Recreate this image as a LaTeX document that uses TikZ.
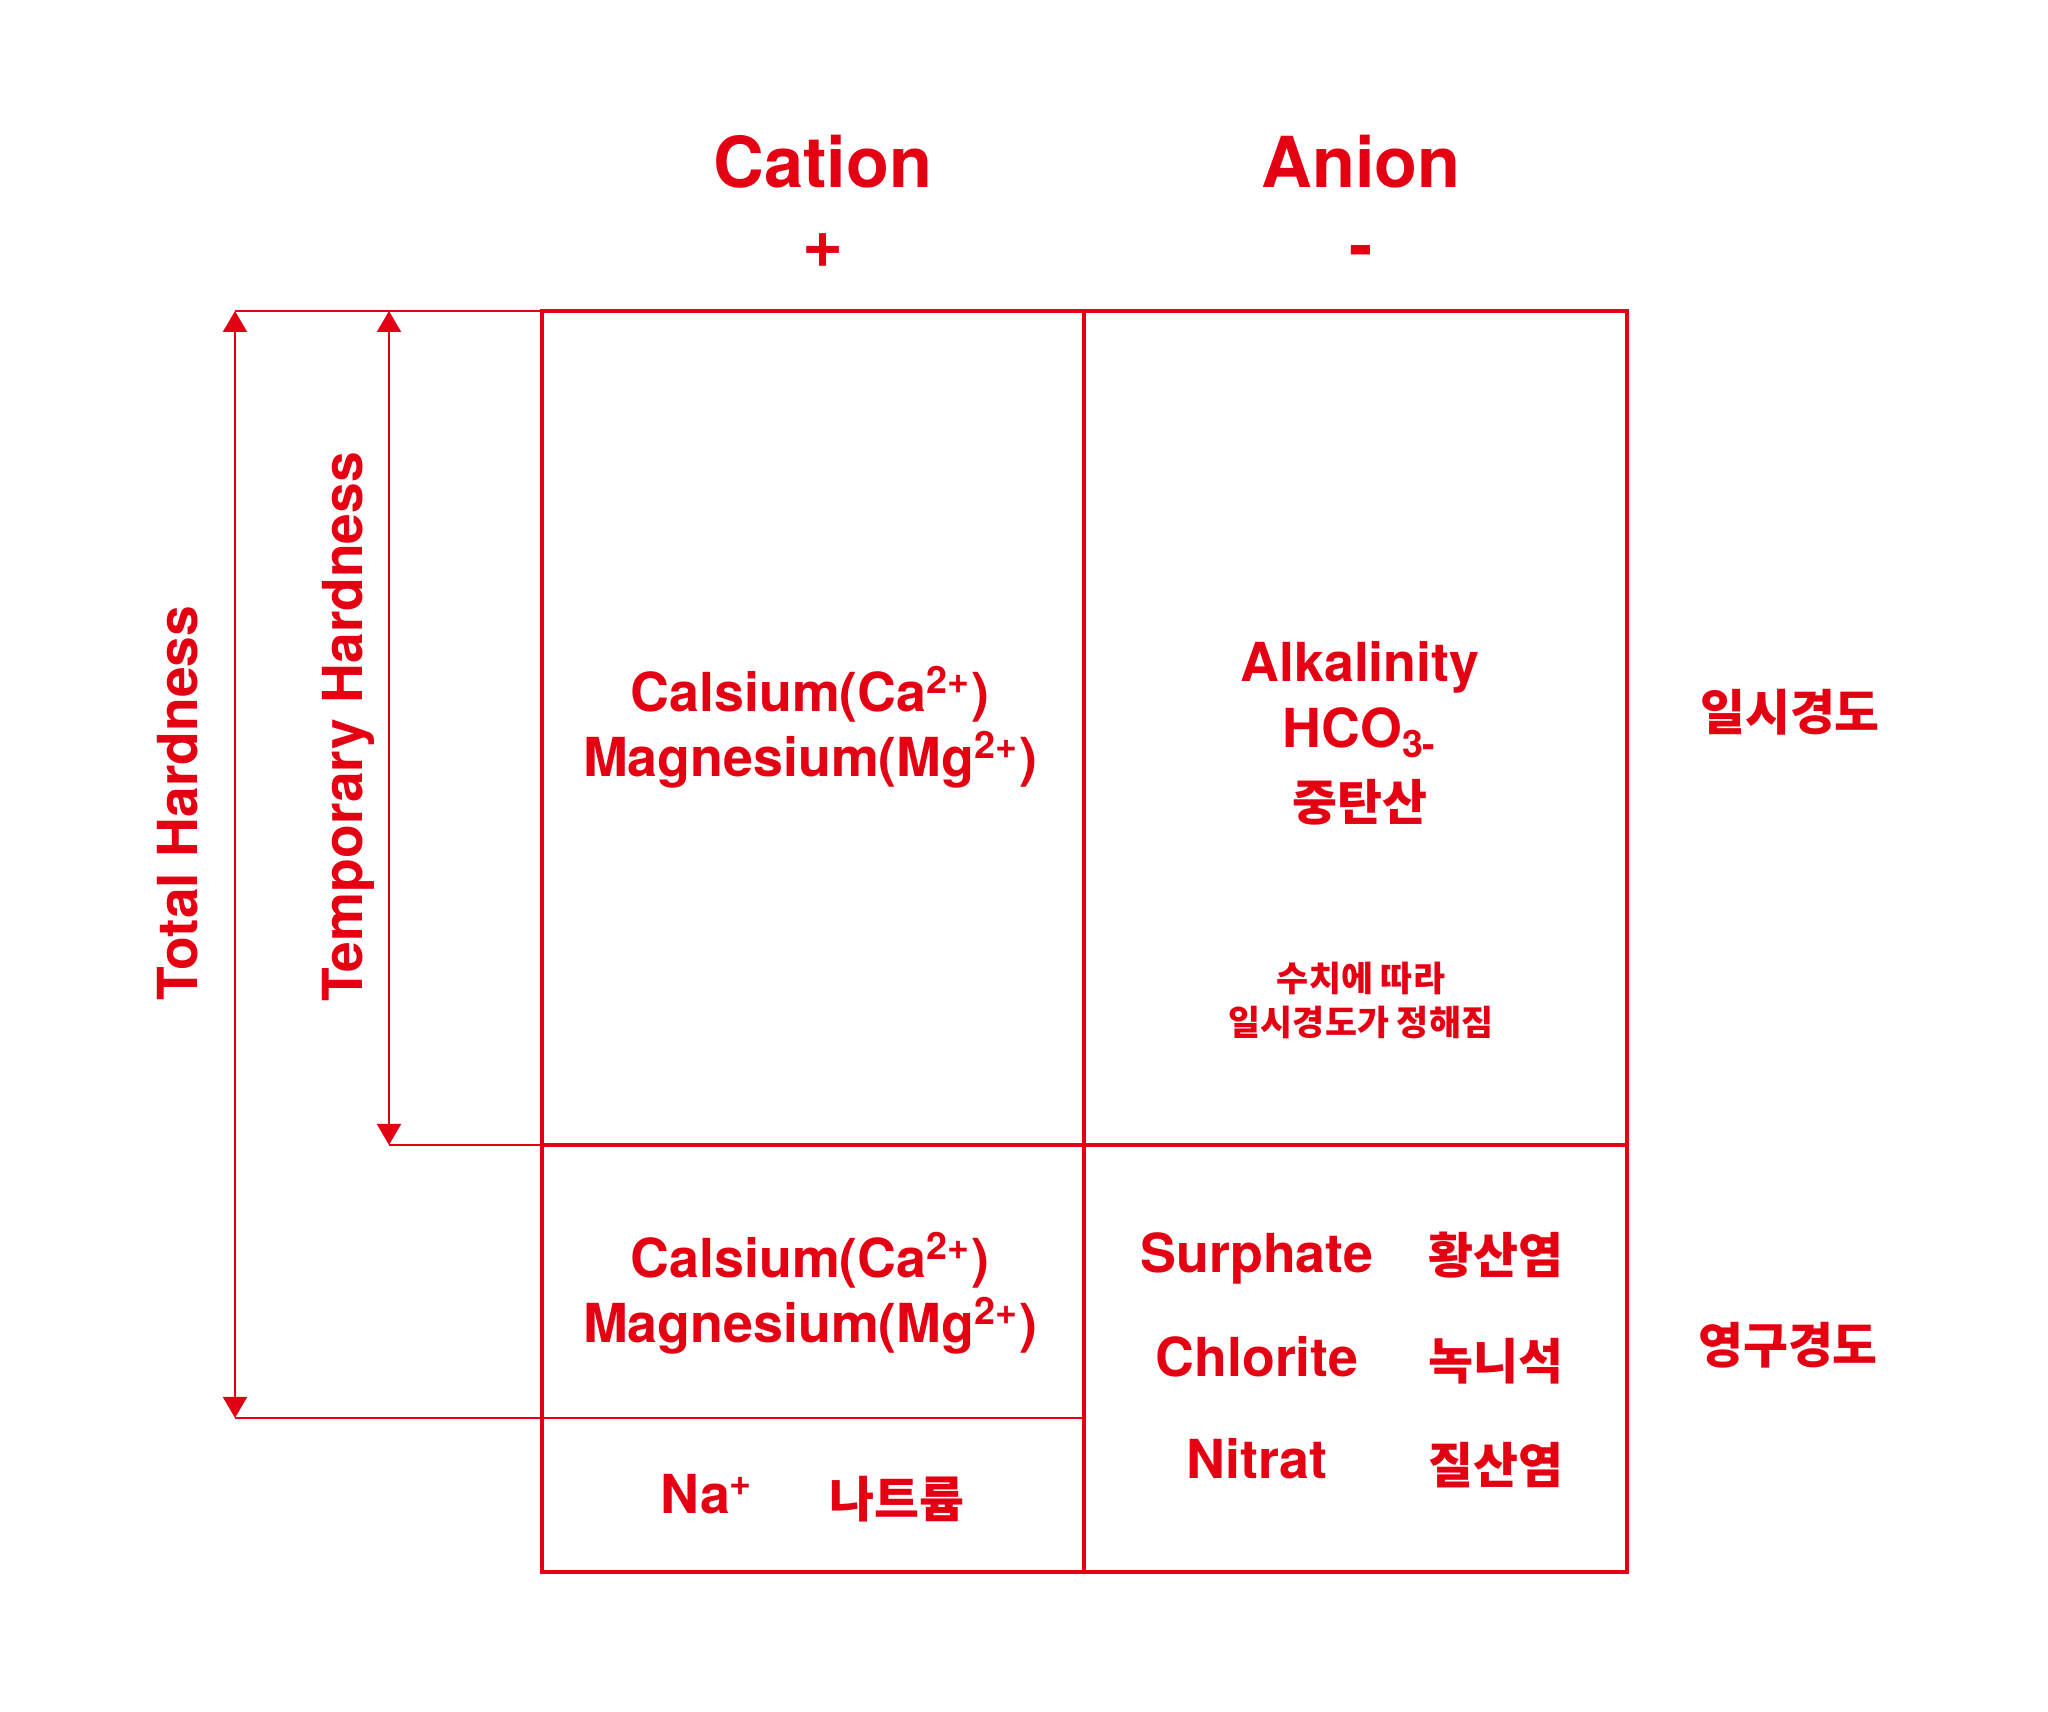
\documentclass[tikz,border=0pt]{standalone}
\usepackage{fontspec}
\setmainfont{TeX Gyre Heros}
\newfontfamily\kor{Noto Sans CJK KR}
\usetikzlibrary{arrows.meta}
\definecolor{hardred}{RGB}{228, 0, 18}

\begin{document}
\begin{tikzpicture}[
        frame/.style={draw=hardred, line width=1.4pt},
        guide/.style={draw=hardred, line width=0.55pt},
        span/.style={{Triangle[length=2.1mm, width=2.4mm]}-{Triangle[length=2.1mm, width=2.4mm]}, draw=hardred, fill=hardred, line width=0.55pt},
        head/.style={text=hardred, font=\fontsize{20}{24}\selectfont\bfseries, inner sep=0pt},
        ion/.style={text=hardred, font=\fontsize{15.3}{18}\selectfont\bfseries, inner sep=0pt, anchor=base},
        kr/.style={text=hardred, font=\kor\fontsize{13.9}{16}\selectfont\bfseries, inner sep=0pt},
        note/.style={text=hardred, font=\kor\fontsize{9.9}{12}\selectfont\bfseries, inner sep=0pt},
        side/.style={text=hardred, font=\fontsize{15.7}{18}\selectfont\bfseries, inner sep=0pt, rotate=90, anchor=base}
      ]
        \useasboundingbox (0,0) rectangle (20.48,17.12);

        \coordinate (nw) at (5.42,14.01);
        \coordinate (se) at (16.27,1.40);
        \coordinate (topM) at (10.84,14.01);
        \coordinate (botM) at (10.84,1.40);
        \coordinate (wMid) at (5.42,5.67);
        \coordinate (eMid) at (16.27,5.67);
        \coordinate (subR) at (10.84,2.94);
        \coordinate (totTop) at (2.35,14.01);
        \coordinate (totBot) at (2.35,2.94);
        \coordinate (tmpTop) at (3.89,14.01);
        \coordinate (tmpBot) at (3.89,5.67);

        \draw[guide] (totTop) -- (nw);
        \draw[guide] (tmpBot) -- (wMid);
        \draw[guide] (totBot) -- (subR);
        \draw[span] (totTop) -- (totBot);
        \draw[span] (tmpTop) -- (tmpBot);
        \draw[frame] (nw) rectangle (se);
        \draw[frame] (topM) -- (botM);
        \draw[frame] (wMid) -- (eMid);

        \node[head, anchor=base] (cation) at (8.23,15.24) {Cation};
        \node[head, anchor=base] (anion) at (13.61,15.24) {Anion};
        \node[head] (plus) at (8.23,14.61) {+};
        \node[head] (minus) at (13.61,14.54) {-};

        \node[side] (total) at (1.97,9.09) {Total Hardness};
        \node[side] (temp) at (3.62,9.85) {Temporary Hardness};

        \node[ion] (caTmp) at (8.10,10.00) {Calsium(Ca\textsuperscript{2+})};
        \node[ion] (mgTmp) at (8.10,9.35) {Magnesium(Mg\textsuperscript{2+})};
        \node[ion] (alk) at (13.60,10.30) {Alkalinity};
        \node[ion] (hco) at (13.60,9.64) {HCO\textsubscript{3-}};
        \node[kr] (bicarb) at (13.60,9.10) {중탄산};
        \node[note] (noteA) at (13.61,7.34) {수치에 따라};
        \node[note] (noteB) at (13.61,6.89) {일시경도가 정해짐};

        \node[ion] (caPerm) at (8.10,4.34) {Calsium(Ca\textsuperscript{2+})};
        \node[ion] (mgPerm) at (8.10,3.69) {Magnesium(Mg\textsuperscript{2+})};
        \node[ion] (na) at (7.07,1.98) {Na\textsuperscript{+}};
        \node[kr] (sodium) at (8.97,2.13) {나트륨};

        \node[ion] (sulf) at (12.57,4.39) {Surphate};
        \node[ion] (chlor) at (12.57,3.35) {Chlorite};
        \node[ion] (nitr) at (12.57,2.33) {Nitrat};
        \node[kr] (sulfK) at (14.96,4.57) {황산염};
        \node[kr] (chlorK) at (14.96,3.51) {녹니석};
        \node[kr] (nitrK) at (14.96,2.47) {질산염};

        \node[kr] (tempK) at (17.90,10.00) {일시경도};
        \node[kr] (permK) at (17.88,3.67) {영구경도};
      \end{tikzpicture}
\end{document}
